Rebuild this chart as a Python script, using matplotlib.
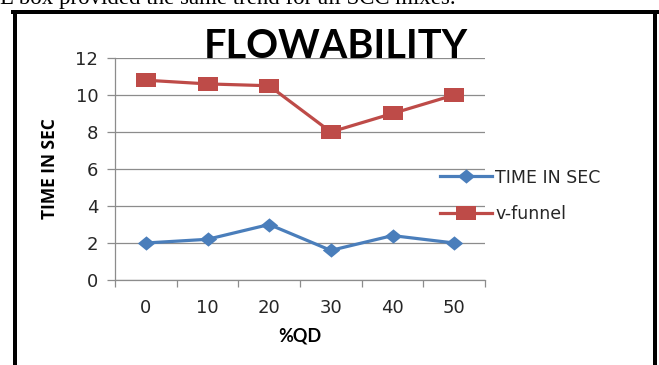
import matplotlib.pyplot as plt
from matplotlib.lines import Line2D
from matplotlib.path import Path

# %QD content and measured times
qd_levels = ["0", "10", "20", "30", "40", "50"]
time_in_sec = [2.0, 2.2, 3.0, 1.6, 2.4, 2.0]
v_funnel = [10.8, 10.6, 10.5, 8.0, 9.0, 10.0]

W, H = 659, 365
fig = plt.figure(figsize=(W / 100, H / 100), dpi=100)

# page text line above the chart box
fig.text(0.0, 1 - 4 / H, "L box provided the same trend for all SCC mixes.",
         family="Liberation Serif", fontsize=16.5, va="baseline", ha="left")

# thick frame around the chart
lw = 4.0
fig.add_artist(Line2D([14.5 / W, 14.5 / W], [-0.05, 1 - 12 / H], color="black", lw=lw * 0.72))
fig.add_artist(Line2D([654.5 / W, 654.5 / W], [-0.05, 1 - 12 / H], color="black", lw=lw * 0.72))
fig.add_artist(Line2D([12.5 / W, 656.5 / W], [1 - 12 / H, 1 - 12 / H], color="black", lw=lw * 0.72))

ax = fig.add_axes([115 / W, 1 - 280 / H, 370 / W, 222 / H])

x = list(range(len(qd_levels)))

diamond = Path([(0, -7), (8.5, 0), (0, 7), (-8.5, 0), (0, -7)],
               [Path.MOVETO, Path.LINETO, Path.LINETO, Path.LINETO, Path.CLOSEPOLY])
square = Path([(-10, -7), (10, -7), (10, 7), (-10, 7), (-10, -7)],
              [Path.MOVETO, Path.LINETO, Path.LINETO, Path.LINETO, Path.CLOSEPOLY])

ax.plot(x, time_in_sec, color="#4A7EBB", lw=2.3, marker=diamond, markersize=12.5,
        markeredgewidth=0, label="TIME IN SEC", solid_joinstyle="round")
ax.plot(x, v_funnel, color="#BE4B48", lw=2.3, marker=square, markersize=14.5,
        markeredgewidth=0, label="v-funnel", solid_joinstyle="round")

ax.set_xlim(-0.5, len(qd_levels) - 0.5)
ax.set_ylim(0, 12)
ax.set_yticks(range(0, 13, 2))
ax.set_xticks(x)
ax.set_xticklabels(qd_levels)
ax.set_xticks([i - 0.5 for i in range(len(qd_levels) + 1)], minor=True)

ax.yaxis.grid(True, color="#8C8C8C", lw=0.9)
ax.set_axisbelow(True)
for side in ("top", "right"):
    ax.spines[side].set_visible(False)
for side in ("left", "bottom"):
    ax.spines[side].set_color("#8C8C8C")
    ax.spines[side].set_linewidth(0.9)

ax.tick_params(axis="y", length=6, width=0.9, color="#8C8C8C", pad=6, labelsize=13)
ax.tick_params(axis="x", which="major", length=0, pad=14, labelsize=13)
ax.tick_params(axis="x", which="minor", length=5, width=0.9, color="#8C8C8C")
for lab in ax.get_xticklabels() + ax.get_yticklabels():
    lab.set_fontfamily("DejaVu Sans")
    lab.set_color("#262626")

ax.set_xlabel("%QD", family="Lato", fontweight="bold", fontsize=13, labelpad=7)
ax.set_ylabel("TIME IN SEC", family="Open Sans", fontweight="bold", fontsize=12.5,
              labelpad=12)

fig.text(336 / W, 1 - 47 / H, "FLOWABILITY", family="Lato", fontweight="bold",
         fontsize=28.5, ha="center", va="center", color="black")

ax.legend(loc="center left", bbox_to_anchor=(0.835, 0.38), frameon=False,
          handlelength=3.0, handletextpad=0.2, labelspacing=1.05,
          prop=dict(family="DejaVu Sans", size=12.5))
for t in ax.get_legend().get_texts():
    t.set_color("#262626")

fig.savefig("out.png", dpi=100)
